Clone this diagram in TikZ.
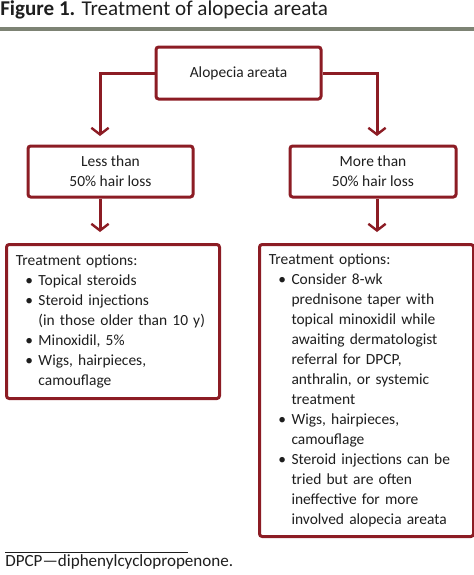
\documentclass[tikz,border=0pt]{standalone}
\usepackage{fontspec}
\setmainfont{Carlito}
\usetikzlibrary{arrows.meta}
\definecolor{boxred}{RGB}{140,28,36}
\definecolor{rulegray}{RGB}{125,131,116}
\definecolor{ink}{RGB}{30,30,30}
\tikzset{
  box/.style={draw=boxred, line width=2.25pt, rounded corners=2pt, align=center, text=ink},
  optbox/.style={box, anchor=north west, align=left, inner xsep=7pt, inner ysep=0pt},
  arr/.style={draw=boxred, line width=2.25pt, -{Straight Barb[length=5pt,width=13pt,line width=1.8pt]}}
}
\newenvironment{opts}{\begin{list}{\textbullet}{\setlength{\leftmargin}{17pt}\setlength{\labelsep}{4pt}%
  \setlength{\labelwidth}{13pt}\setlength{\topsep}{0pt}\setlength{\partopsep}{0pt}%
  \setlength{\itemsep}{0pt}\setlength{\parsep}{0pt}}}{\end{list}}

\begin{document}
\begin{tikzpicture}[x=0.75pt, y=-0.75pt, font=\fontsize{11.6}{15}\selectfont]
\useasboundingbox (0,0) rectangle (474,575);
\node[anchor=base west, inner sep=0pt, text=ink, font=\fontsize{15.8}{18}\selectfont] (title) at (0,15) {\textbf{Figure 1.} Treatment of alopecia areata};
\draw[rulegray, line width=2.6pt] (0,29) -- (474,29);

\node[box, minimum width=123.75pt, minimum height=39pt] (top) at (238.5,73) {Alopecia areata};
\node[box, minimum width=123.75pt, minimum height=38.25pt] (lmid) at (110.5,171.5) {Less than\\50\% hair loss};
\node[box, minimum width=124.5pt, minimum height=38.25pt] (rmid) at (373,171.5) {More than\\50\% hair loss};

\node[optbox, text width=145.75pt, minimum height=115.5pt] (lopt) at (5,243) {Treatment options:
\begin{opts}
\item Topical steroids
\item Steroid injections\\(in those older than 10 y)
\item Minoxidil, 5\%
\item Wigs, hairpieces,\\camouflage
\end{opts}};
\node[optbox, text width=146.5pt, minimum height=219pt] (ropt) at (258,243) {Treatment options:
\begin{opts}
\item Consider 8-wk\\prednisone taper with\\topical minoxidil while\\awaiting dermatologist\\referral for DPCP,\\anthralin, or systemic\\treatment
\item Wigs, hairpieces,\\camouflage
\item Steroid injections can be\\tried but are often\\ineffective for more\\involved alopecia areata
\end{opts}};

\coordinate (ltop) at (100,136);
\coordinate (rtop) at (377,136);
\coordinate (lbot) at (100,232);
\coordinate (rbot) at (377,232);
\draw[arr] (top.west) -| (ltop);
\draw[arr] (top.east) -| (rtop);
\draw[arr] (lmid.south -| lbot) -- (lbot);
\draw[arr] (rmid.south -| rbot) -- (rbot);

\draw[ink, line width=0.75pt] (5,552) -- (188,552);
\node[anchor=base west, inner sep=0pt, text=ink, font=\fontsize{12.8}{15}\selectfont] (note) at (5,566) {DPCP—diphenylcyclopropenone.};
\end{tikzpicture}
\end{document}
